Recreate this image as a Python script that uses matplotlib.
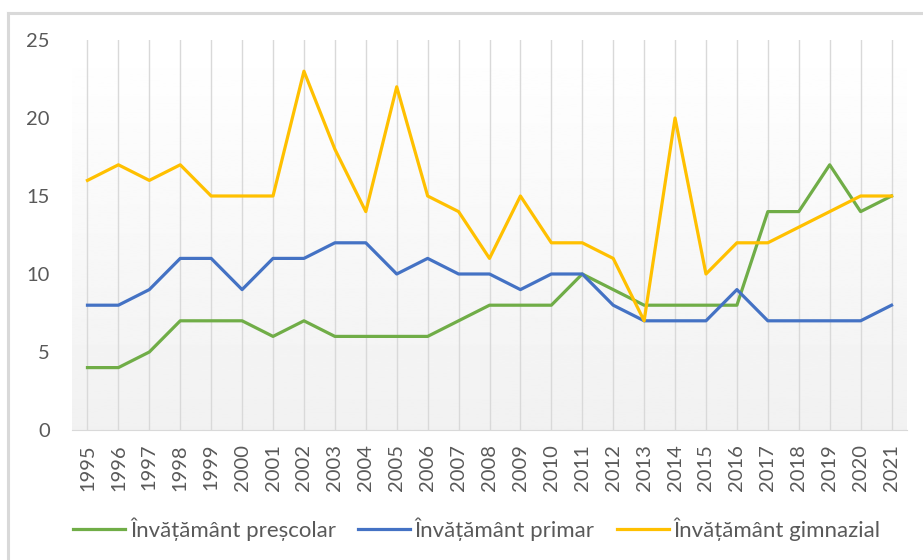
import numpy as np
import matplotlib.pyplot as plt
from matplotlib.lines import Line2D

plt.rcParams['font.family'] = ['Lato', 'DejaVu Sans']

years = [str(y) for y in range(1995, 2022)]
prescolar = [4, 4, 5, 7, 7, 7, 6, 7, 6, 6, 6, 6, 7, 8, 8, 8, 10, 9, 8, 8, 8, 8, 14, 14, 17, 14, 15]
primar = [8, 8, 9, 11, 11, 9, 11, 11, 12, 12, 10, 11, 10, 10, 9, 10, 10, 8, 7, 7, 7, 9, 7, 7, 7, 7, 8]
gimnazial = [16, 17, 16, 17, 15, 15, 15, 23, 18, 14, 22, 15, 14, 11, 15, 12, 12, 11, 7, 20, 10, 12, 12, 13, 14, 15, 15]
labels = ['Învățământ preșcolar', 'Învățământ primar', 'Învățământ gimnazial']
colors = ['#70AD47', '#4472C4', '#FFC000']

W, H = 923, 560
fig = plt.figure(figsize=(W / 100, H / 100), dpi=100)
ax = fig.add_axes([72 / W, 1 - 430 / H, (907 - 72) / W, (430 - 40) / H])

# outer frame (only top and left edges are in the picture)
fig.add_artist(Line2D([8 / W, 8 / W], [0, 1 - 13 / H], transform=fig.transFigure,
                      color='#d9d9d9', linewidth=2.2))
fig.add_artist(Line2D([8 / W, 1], [1 - 13 / H, 1 - 13 / H], transform=fig.transFigure,
                      color='#d9d9d9', linewidth=2.2))

# gradient background of the plot area: white on top, light grey at bottom
grad = np.linspace(1.0, 0.945, 256).reshape(-1, 1)
ax.imshow(grad, cmap='gray', vmin=0, vmax=1, aspect='auto', extent=[0, 1, 0, 1],
          transform=ax.transAxes, zorder=0)

x = np.arange(len(years))
for vals, lab, c in zip([prescolar, primar, gimnazial], labels, colors):
    ax.plot(x, vals, color=c, linewidth=2.3, label=lab, zorder=3)

ax.set_xlim(-0.5, len(years) - 0.5)
ax.set_ylim(0, 25)
ax.set_yticks([0, 5, 10, 15, 20, 25])
ax.set_xticks(x)
ax.set_xticklabels(years, rotation=90)
ax.grid(axis='x', color='#d9d9d9', linewidth=1, zorder=1)
ax.set_axisbelow(True)
for s in ['top', 'right', 'left']:
    ax.spines[s].set_visible(False)
ax.spines['bottom'].set_color('#d9d9d9')
ax.tick_params(axis='both', length=0, colors='#595959', labelsize=14.5)
ax.tick_params(axis='y', pad=16)
ax.tick_params(axis='x', pad=10)

fig.legend(loc='center', bbox_to_anchor=(477 / W, 1 - 529 / H), ncol=3, frameon=False,
           fontsize=16, labelcolor='#595959', handlelength=2.35, handletextpad=0.2,
           columnspacing=1.0)

fig.savefig('out.png', dpi=100)
